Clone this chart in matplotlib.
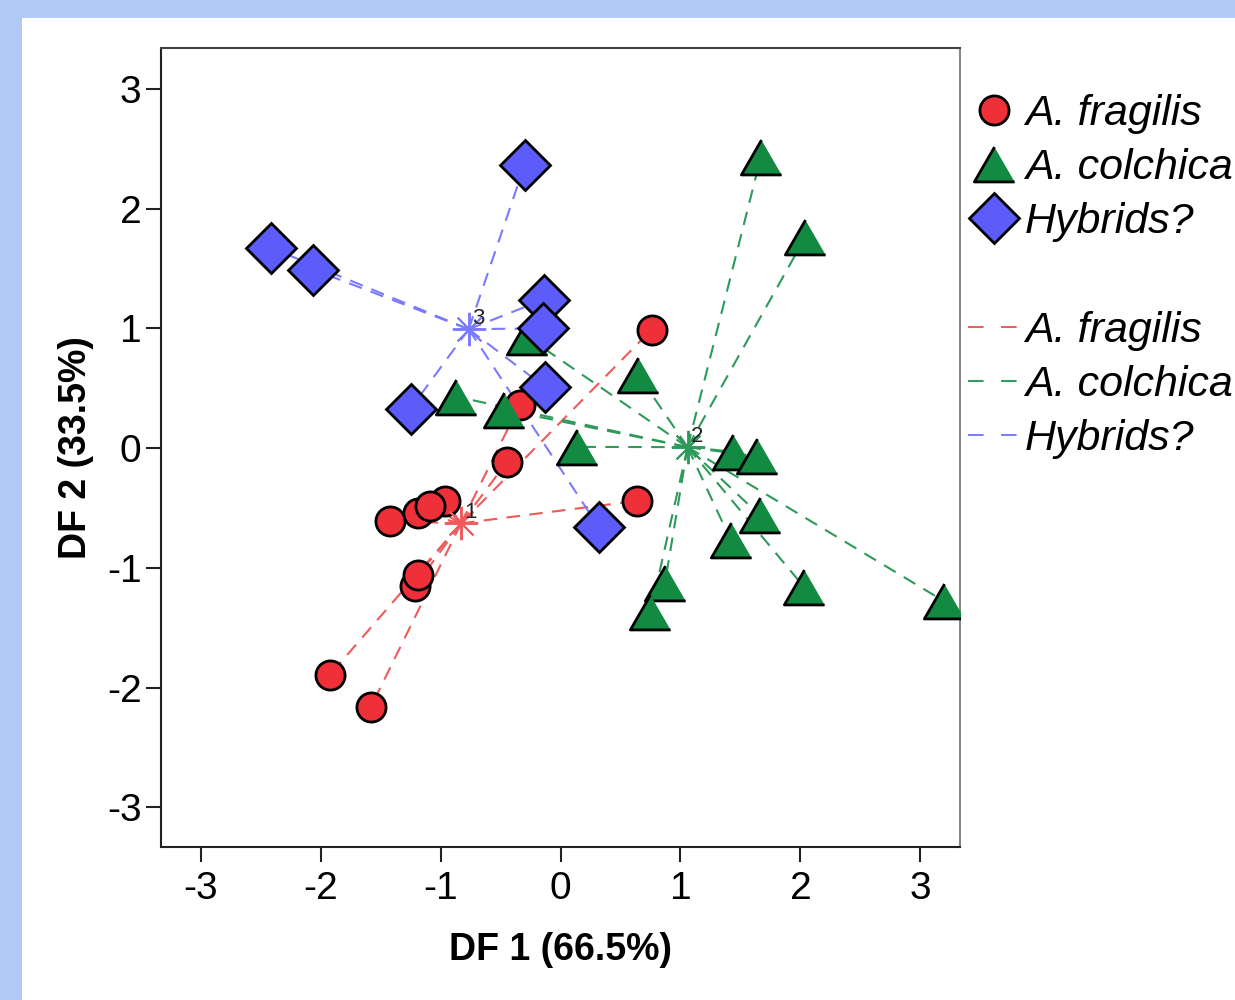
import numpy as np
import matplotlib
matplotlib.use('Agg')
import matplotlib.pyplot as plt
from matplotlib.lines import Line2D
from matplotlib.patches import Rectangle

plt.rcParams['font.family'] = ['Liberation Sans', 'DejaVu Sans']
plt.rcParams['axes.unicode_minus'] = False

# data
groups = ['A. fragilis', 'A. colchica', 'Hybrids?']
frag_x = [0.76, -0.34, -0.45, 0.64, -0.96, -1.42, -1.19, -1.09, -1.21, -1.19, -1.92, -1.58]
frag_y = [0.99, 0.36, -0.12, -0.44, -0.44, -0.61, -0.54, -0.48, -1.15, -1.06, -1.89, -2.16]
colc_x = [1.67, 2.04, -0.28, 0.65, -0.87, -0.47, 0.14, 1.44, 1.64, 1.66, 1.42, 0.87, 0.75, 2.03, 3.20]
colc_y = [2.43, 1.76, 0.93, 0.61, 0.43, 0.32, 0.01, -0.03, -0.07, -0.56, -0.77, -1.13, -1.37, -1.16, -1.28]
hyb_x = [-0.30, -2.41, -2.06, -0.14, -0.15, -0.13, -1.25, 0.32]
hyb_y = [2.36, 1.67, 1.49, 1.24, 1.00, 0.51, 0.33, -0.66]
ticks = [-3, -2, -1, 0, 1, 2, 3]

xs = [frag_x, colc_x, hyb_x]
ys = [frag_y, colc_y, hyb_y]
face = ['#ef3038', '#138a42', '#5c5cfb']
linec = ['#f05a5a', '#2e9a5a', '#7a7aff']
tri = [(0, 0.866), (-1, -0.866), (1, -0.866)]
mk = ['o', tri, 'D']
ms = [21, 29, 25]

fig = plt.figure(figsize=(12.35, 10), dpi=100, facecolor='#b3c9f5')
fig.patches.append(Rectangle((22/1235, 0), 1, 1 - 18/1000, transform=fig.transFigure,
                             facecolor='white', edgecolor='none', zorder=-1))
ax = fig.add_axes([161/1235, 153/1000, 799/1235, 799/1000])

# lines from centroid to every case
cents = []
for i in range(3):
    cx, cy = np.mean(xs[i]), np.mean(ys[i])
    cents.append((cx, cy))
    for x, y in zip(xs[i], ys[i]):
        ax.plot([cx, x], [cy, y], color=linec[i], lw=1.5, ls=(0, (6.5, 4.5)), zorder=1)

for i in range(3):
    ax.plot(xs[i], ys[i], ls='none', marker=mk[i], ms=ms[i], mfc=face[i], mec='black',
            mew=2, zorder=3 + i)

for i, (cx, cy) in enumerate(cents):
    ax.plot(cx, cy, ls='none', marker=(8, 2, 0), ms=24, mec=linec[i], mew=1.4, zorder=7)
    ax.annotate(str(i + 1), (cx, cy), xytext=(7, 8), textcoords='offset points',
                fontsize=16, color='#222222', ha='center', va='center', zorder=8)

ax.set_xlim(-3.33, 3.33)
ax.set_ylim(-3.33, 3.34)
ax.set_xticks(ticks)
ax.set_yticks(ticks)
ax.tick_params(length=11, width=1.5, labelsize=28, color='#222222')
ax.tick_params(axis='x', pad=6)
ax.tick_params(axis='y', pad=3)
for s in ['left', 'bottom']:
    ax.spines[s].set_color('#222222')
ax.spines['top'].set_color('#444444')
ax.spines['right'].set_color('#888888')
for s in ax.spines.values():
    s.set_linewidth(1.5)

ax.set_xlabel('DF 1 (66.5%)', fontsize=27, fontweight='bold', labelpad=18)
ax.set_ylabel('DF 2 (33.5%)', fontsize=27, fontweight='bold', labelpad=9)

handles = []
labels = []
for i in range(3):
    handles.append(Line2D([], [], ls='none', marker=mk[i], ms=ms[i], mfc=face[i],
                          mec='black', mew=2))
    labels.append(groups[i])
handles.append(Line2D([], [], ls='none'))
labels.append(' ')
for i in range(3):
    handles.append(Line2D([], [], color=linec[i], lw=1.4, ls=(0, (8, 9))))
    labels.append(groups[i])

fig.legend(handles, labels, loc='upper left', bbox_to_anchor=(968/1235, 1 - 94/1000),
           frameon=False, prop={'style': 'italic', 'size': 31}, handlelength=1.2,
           handletextpad=0.12, labelspacing=0.33, borderpad=0, borderaxespad=0)

fig.savefig('out.png', dpi=100, facecolor=fig.get_facecolor())
